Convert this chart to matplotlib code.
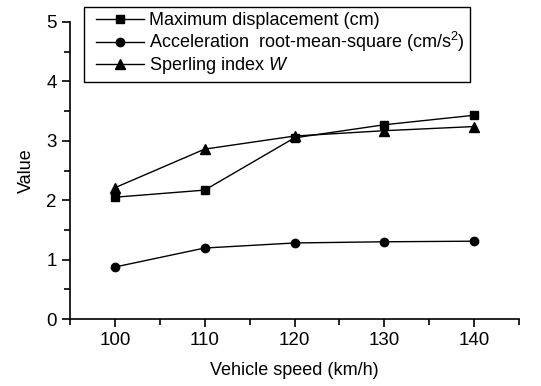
import numpy as np
import matplotlib.pyplot as plt
from matplotlib.ticker import MultipleLocator
from matplotlib.legend_handler import HandlerLine2D

speed = [100, 110, 120, 130, 140]
max_disp = [2.05, 2.17, 3.05, 3.27, 3.43]
acc_rms = [0.875, 1.195, 1.28, 1.30, 1.31]
sperling = [2.21, 2.86, 3.08, 3.17, 3.24]

plt.rcParams['font.family'] = ['Liberation Sans', 'DejaVu Sans']
plt.rcParams['mathtext.fontset'] = 'custom'
plt.rcParams['mathtext.rm'] = 'Liberation Sans'
plt.rcParams['mathtext.it'] = 'Liberation Sans:italic'

fig = plt.figure(figsize=(5.41, 3.86), dpi=100)
ax = fig.add_axes([70 / 541, 67 / 386, 449 / 541, 297 / 386])

ax.plot(speed, max_disp, 'k-s', lw=1, ms=5.5, label='Maximum displacement (cm)')
ax.plot(speed, acc_rms, 'k-o', lw=1, ms=6,
        label='Acceleration  root-mean-square (cm/s$^2$)')
ax.plot(speed, sperling, 'k-^', lw=1, ms=6.5, label='Sperling index $W$')

ax.set_xlim(95, 145)
ax.set_ylim(0, 5)
ax.xaxis.set_major_locator(MultipleLocator(10))
ax.xaxis.set_minor_locator(MultipleLocator(5))
ax.yaxis.set_major_locator(MultipleLocator(1))
ax.yaxis.set_minor_locator(MultipleLocator(0.5))

for s in ['top', 'right']:
    ax.spines[s].set_visible(False)
for s in ['left', 'bottom']:
    ax.spines[s].set_linewidth(1.2)

ax.tick_params(which='major', direction='out', length=6, width=1.2, labelsize=13.5)
ax.tick_params(which='minor', direction='out', length=4, width=1.2)

ax.set_xlabel('Vehicle speed (km/h)', fontsize=13, labelpad=9)
ax.set_ylabel('Value', fontsize=13, labelpad=8)

# pad the legend lines so they sit away from the left edge of the box
leg = fig.legend(loc='upper left', bbox_to_anchor=(84 / 541, 1 - 7 / 386),
                 borderaxespad=0, fancybox=False, edgecolor='black',
                 fontsize=13, handlelength=3.0, handletextpad=0.3,
                 labelspacing=0.05, borderpad=0.3, framealpha=1,
                 handler_map={plt.Line2D: HandlerLine2D(xpad=0.35)})
leg.get_frame().set_linewidth(1)

fig.savefig('out.png', dpi=100)
